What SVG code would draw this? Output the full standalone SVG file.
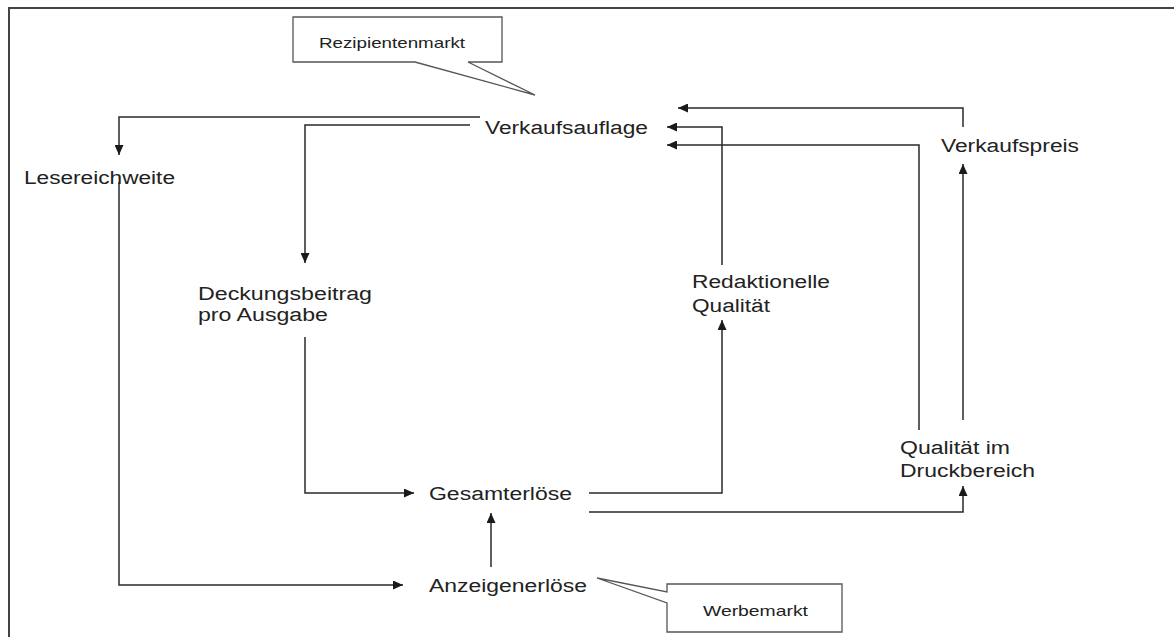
<svg xmlns="http://www.w3.org/2000/svg" width="1174" height="637" viewBox="0 0 1174 637">
<style>
.t{font-family:"Liberation Sans",Arial,sans-serif;font-size:18px;fill:#222}
.s{font-family:"Liberation Sans",Arial,sans-serif;font-size:15px;fill:#222}
.c{fill:none;stroke:#2a2a2a;stroke-width:1.5}
.call{fill:#fff;stroke:#555;stroke-width:1.3}
</style>
<defs>
<marker id="ah" markerUnits="userSpaceOnUse" markerWidth="11" markerHeight="9" refX="10" refY="4.5" orient="auto">
<path d="M0,0 L10,4.5 L0,9 z" fill="#1a1a1a"/>
</marker>
</defs>
<rect width="1174" height="637" fill="#fff"/>
<path d="M9,637 V8 H1174" fill="none" stroke="#444" stroke-width="2"/>
<g id="connectors">
<path class="c" d="M480,117 H119 V155" marker-end="url(#ah)"/>
<path class="c" d="M470,125 H305 V263" marker-end="url(#ah)"/>
<path class="c" d="M119,182 V585 H403" marker-end="url(#ah)"/>
<path class="c" d="M305,337 V493 H414" marker-end="url(#ah)"/>
<path class="c" d="M491,567 V513" marker-end="url(#ah)"/>
<path class="c" d="M589,493 H722 V320" marker-end="url(#ah)"/>
<path class="c" d="M589,512 H963 V486" marker-end="url(#ah)"/>
<path class="c" d="M722,265 V127 H667" marker-end="url(#ah)"/>
<path class="c" d="M919,430 V145 H667" marker-end="url(#ah)"/>
<path class="c" d="M963,420 V164" marker-end="url(#ah)"/>
<path class="c" d="M963,127 V108 H678" marker-end="url(#ah)"/>
</g>
<g id="rezipientenmarkt">
<path class="call" d="M293,17 H502 V62 H468 L535,95 L415,62 H293 Z"/>
<text class="s" x="319" y="48" textLength="146" lengthAdjust="spacingAndGlyphs">Rezipientenmarkt</text>
</g>
<g id="werbemarkt">
<path class="call" d="M667,584 H842 V632 H667 V603 L597,578 L667,592 Z"/>
<text class="s" x="703" y="616" textLength="105" lengthAdjust="spacingAndGlyphs">Werbemarkt</text>
</g>
<g id="verkaufsauflage">
<text class="t" x="485" y="134" textLength="163" lengthAdjust="spacingAndGlyphs">Verkaufsauflage</text>
</g>
<g id="lesereichweite">
<text class="t" x="24" y="184" textLength="151" lengthAdjust="spacingAndGlyphs">Lesereichweite</text>
</g>
<g id="deckungsbeitrag">
<text class="t" x="198" y="300" textLength="174" lengthAdjust="spacingAndGlyphs">Deckungsbeitrag</text>
<text class="t" x="198" y="321" textLength="130" lengthAdjust="spacingAndGlyphs">pro Ausgabe</text>
</g>
<g id="redaktionelle">
<text class="t" x="692" y="288" textLength="138" lengthAdjust="spacingAndGlyphs">Redaktionelle</text>
<text class="t" x="692" y="312" textLength="78" lengthAdjust="spacingAndGlyphs">Qualität</text>
</g>
<g id="verkaufspreis">
<text class="t" x="941" y="152" textLength="138" lengthAdjust="spacingAndGlyphs">Verkaufspreis</text>
</g>
<g id="druckqualitaet">
<text class="t" x="900" y="454" textLength="110" lengthAdjust="spacingAndGlyphs">Qualität im</text>
<text class="t" x="900" y="477" textLength="135" lengthAdjust="spacingAndGlyphs">Druckbereich</text>
</g>
<g id="gesamterloese">
<text class="t" x="429" y="500" textLength="143" lengthAdjust="spacingAndGlyphs">Gesamterlöse</text>
</g>
<g id="anzeigenerloese">
<text class="t" x="429" y="592" textLength="158" lengthAdjust="spacingAndGlyphs">Anzeigenerlöse</text>
</g>
</svg>
